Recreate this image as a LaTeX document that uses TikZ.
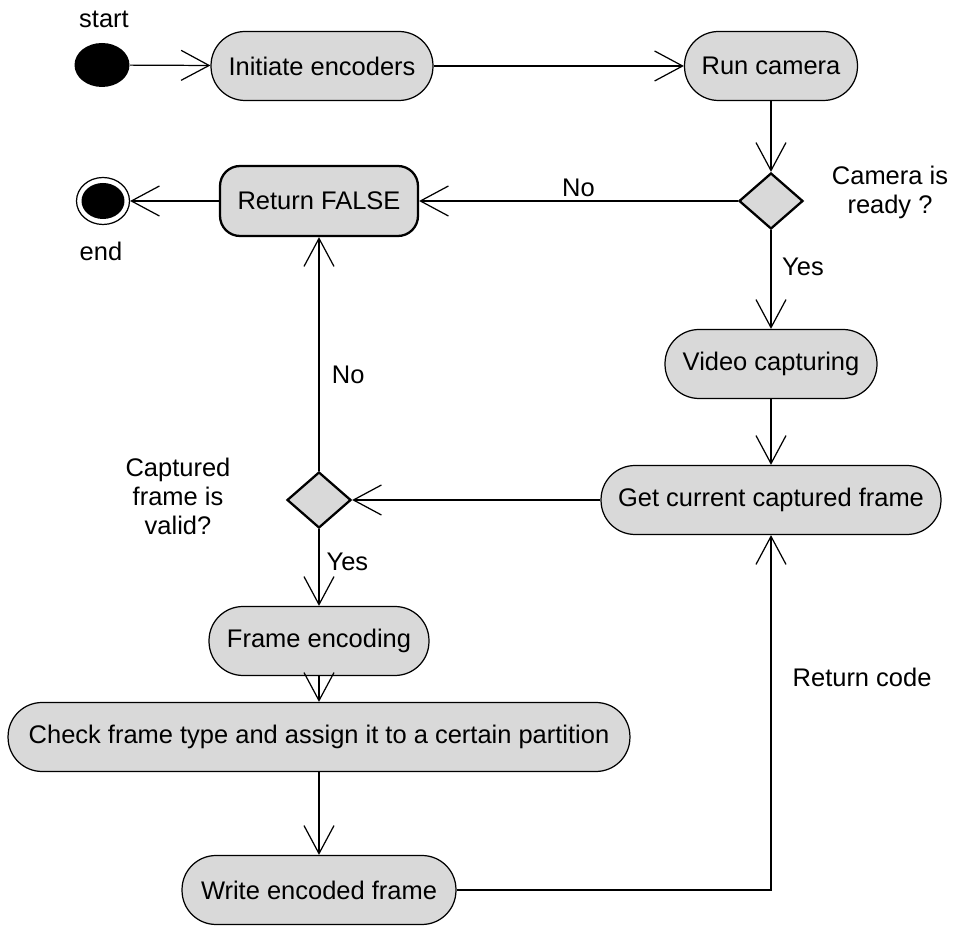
\documentclass[tikz,border=0pt]{standalone}
\usepackage{fontspec}
\setmainfont{Liberation Sans}
\usetikzlibrary{arrows.meta,shapes.geometric}

\begin{document}
\begin{tikzpicture}[
    x=0.02cm, y=-0.02cm,
    font=\fontsize{14.5}{16.5}\selectfont,
    act/.style={draw, line width=0.7pt, fill=black!15, rounded corners=0.68cm, minimum height=1.38cm, inner sep=0pt},
    choice/.style={draw, diamond, line width=1.3pt, fill=black!15, minimum width=1.28cm, minimum height=1.12cm, inner sep=0pt},
    arr/.style={-{Straight Barb[length=0.56cm,width=0.6cm]}, line width=0.7pt},
    lbl/.style={inner sep=2pt, align=center}
]
\useasboundingbox (0,0) rectangle (954,928);

% start / end
\node[ellipse, fill=black, minimum width=1.1cm, minimum height=0.88cm, inner sep=0pt] (start) at (102,65) {};
\node[lbl] (startlbl) at (104,19) {start};
\node[ellipse, draw, line width=0.7pt, fill=white, minimum width=1.06cm, minimum height=0.94cm, inner sep=0pt] (final) at (103,201) {};
\node[ellipse, fill=black, minimum width=0.86cm, minimum height=0.72cm, inner sep=0pt] (finaldot) at (final) {};
\node[lbl] (finallbl) at (101,251) {end};

% activities
\node[act, minimum width=4.44cm] (init) at (322,66) {Initiate encoders};
\node[act, minimum width=3.46cm] (cam) at (771,66) {Run camera};
\node[choice] (ready) at (771,201) {};
\node[lbl] (readylbl) at (890,192) {Camera is\\ready ?};
\node[act, rounded corners=0.4cm, line width=1.3pt, minimum width=3.96cm, minimum height=1.4cm] (retf) at (319,201) {Return FALSE};
\node[act, minimum width=4.24cm] (video) at (771,364) {Video capturing};
\node[act, minimum width=6.8cm] (grab) at (771,500) {Get current captured frame};
\node[choice] (valid) at (319,500) {};
\node[lbl] (validlbl) at (178,496) {Captured\\frame is\\valid?};
\node[act, minimum width=4.4cm] (enc) at (319,641) {Frame encoding};
\node[act, minimum width=12.44cm] (check) at (319,737) {Check frame type and assign it to a certain partition};
\node[act, minimum width=5.48cm] (write) at (319,890) {Write encoded frame};

% flow
\draw[arr] (start) -- (init);
\draw[arr] (init) -- (cam);
\draw[arr] (cam) -- (ready);
\draw[arr] (ready) -- node[lbl, above, midway] (no1) {No} (retf);
\draw[arr] (retf) -- (final);
\draw[arr] (ready) -- node[lbl, right=4pt, pos=0.37] (yes1) {Yes} (video);
\draw[arr] (video) -- (grab);
\draw[arr] (grab) -- (valid);
\draw[arr] (valid) -- node[lbl, right=5pt, pos=0.41] (no2) {No} (retf);
\draw[arr] (valid) -- node[lbl, right=2pt, pos=0.42] (yes2) {Yes} (enc);
\draw[arr] (enc) -- (check);
\draw[arr] (check) -- (write);
\draw[arr] (write.east) -| node[lbl, right=10pt, pos=0.8] (ret) {Return code} (grab.south);
\end{tikzpicture}
\end{document}
